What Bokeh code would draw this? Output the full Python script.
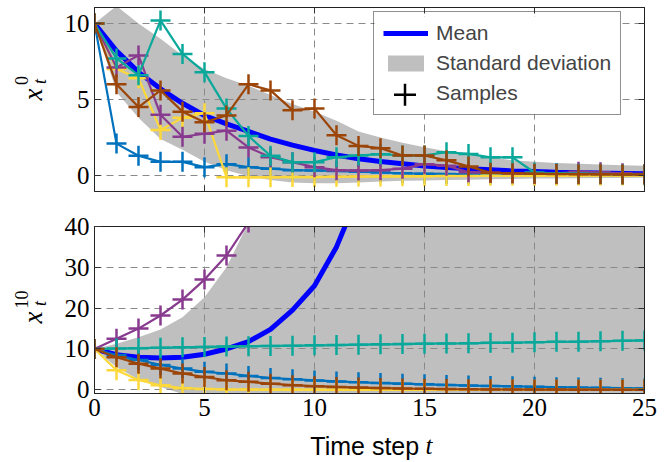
from bokeh.plotting import figure
from bokeh.models import (Legend, LegendItem, LinearAxis, Range1d, FixedTicker)
from bokeh.layouts import column, row
from bokeh.core.properties import value
from bokeh.embed import file_html
from bokeh.resources import INLINE

# ---------------- data ----------------
t = list(range(26))
x_ticks = [0, 5, 10, 15, 20, 25]
y_ticks_top = [0, 5, 10]
y_ticks_bot = [0, 10, 20, 30, 40]

# top panel: x_t^0
mean_x0 = [10.0, 8.2, 6.8, 5.7, 4.75, 3.95, 3.4, 2.9, 2.4, 2.0, 1.65, 1.35, 1.1, 0.92,
           0.78, 0.63, 0.53, 0.45, 0.38, 0.3, 0.26, 0.22, 0.19, 0.16, 0.14, 0.12]
upper_x0 = [10.0, 11.15, 10.0, 9.0, 7.9, 7.0, 6.4, 5.9, 5.3, 4.7, 4.2, 3.6, 2.9, 2.5,
            2.15, 1.86, 1.6, 1.4, 1.2, 1.0, 0.9, 0.83, 0.77, 0.72, 0.68, 0.65]
lower_x0 = [10.0, 5.5, 3.8, 2.4, 1.7, 0.9, 0.35, -0.05, -0.3, -0.45, -0.5, -0.5, -0.45, -0.4,
            -0.35, -0.32, -0.3, -0.28, -0.25, -0.22, -0.2, -0.2, -0.18, -0.17, -0.16, -0.15]
blue_x0 = [10.0, 2.1, 1.3, 0.9, 0.9, 0.55, 0.75, 0.55, 0.45, 0.35, 0.33, 0.3, 0.25, 0.2,
           0.15, 0.12, 0.1, 0.08, 0.07, 0.06, 0.05, 0.04, 0.04, 0.03, 0.03, 0.02]
yellow_x0 = [10.0, 7.0, 6.4, 3.0, 3.8, 4.1, -0.12, -0.12, -0.11, -0.1, -0.1, -0.08, -0.07, -0.06,
             -0.05, -0.04, -0.03, -0.03, -0.02, -0.02, -0.01, -0.01, 0.0, 0.0, 0.0, 0.0]
purple_x0 = [10.0, 7.1, 7.9, 4.0, 2.55, 2.75, 2.95, 1.85, 1.2, 0.88, 0.55, 0.35, 0.33, 0.35,
             0.45, 0.75, 0.65, 0.22, 0.18, 0.15, 0.12, 0.15, 0.25, 0.22, 0.15, 0.1]
teal_x0 = [10.0, 7.7, 6.6, 10.2, 8.0, 6.8, 4.4, 2.6, 1.3, 0.88, 0.88, 1.2, 1.32, 1.4,
           1.32, 1.32, 1.53, 1.42, 1.2, 1.2, 0.2, 0.15, 0.12, 0.1, 0.08, 0.07]
brown_x0 = [10.0, 6.0, 4.5, 5.6, 4.2, 3.5, 3.95, 6.0, 5.6, 4.3, 4.4, 2.65, 1.95, 1.8,
            1.32, 1.32, 1.0, 0.6, 0.18, 0.15, 0.12, 0.1, 0.09, 0.08, 0.07, 0.06]

# bottom panel: x_t^10
mean_x10 = [10.0, 8.6, 8.0, 7.8, 8.0, 8.7, 10.0, 11.8, 14.8, 19.5, 25.5, 35.0, 48.0]
upper_x10 = [10.0, 11.3, 12.9, 14.8, 17.8, 22.7, 30.0, 41.0, 58.0, 80.0, 110.0, 150.0, 200.0,
             260.0, 330.0, 420.0, 520.0, 640.0, 780.0, 950.0, 1150.0, 1400.0, 1700.0, 2000.0,
             2400.0, 2900.0]
lower_x10 = [10.0, 5.5, 2.5, 0.7, -1.0, -3.0, -6.0, -10.0, -16.0, -25.0, -36.0, -50.0, -70.0,
             -95.0, -125.0, -160.0, -200.0, -250.0, -310.0, -380.0, -460.0, -550.0, -650.0,
             -760.0, -880.0, -1000.0]
purple_x10 = [10.0, 12.5, 15.0, 18.2, 22.1, 27.0, 32.9, 41.0, 51.0]
teal_x10 = [10.0, 10.1, 10.2, 10.3, 10.4, 10.5, 10.6, 10.7, 10.75, 10.8, 10.9, 10.95, 11.05,
            11.15, 11.2, 11.3, 11.35, 11.4, 11.5, 11.55, 11.65, 11.75, 11.8, 11.9, 12.0, 12.1]
blue_x10 = [10.0, 8.5, 7.3, 6.1, 5.2, 4.4, 4.0, 3.4, 2.9, 2.6, 2.3, 2.05, 1.85, 1.65, 1.5,
            1.35, 1.2, 1.05, 0.95, 0.85, 0.75, 0.65, 0.55, 0.48, 0.4, 0.35]
brown_x10 = [10.0, 8.0, 6.4, 5.2, 4.0, 3.15, 2.35, 1.95, 1.5, 1.15, 0.9, 0.7, 0.55, 0.42,
             0.32, 0.25, 0.18, 0.14, 0.1, 0.08, 0.06, 0.05, 0.04, 0.03, 0.02, 0.02]
yellow_x10 = [10.0, 4.8, 2.4, 1.1, 0.4, 0.2, 0.1, 0.06, 0.04, 0.03, 0.02, 0.01, 0.01, 0.0,
              0.0, 0.0, 0.0, 0.0, 0.0, 0.0, 0.0, 0.0, 0.0, 0.0, 0.0, 0.0]

C_BLUE = "#0072BD"
C_YELLOW = "#FCD83A"
C_PURPLE = "#873A8E"
C_TEAL = "#0AA89A"
C_BROWN = "#9C4508"
C_MEAN = "#0000FF"
C_BAND = "#BFBFBF"

SERIF = "Liberation Serif"
SANS = "Liberation Sans"
TICK_SIZE = "25px"

LEFT_W = 50          # width of the strip holding the y-axis titles
MAIN_W = 615         # width of each panel figure
FRAME_W = 550
TOTAL_H = 461
TOP_H = 208
TOP_FRAME_H = 184
BOT_FRAME_H = 167
BOT_BORDER = 36
STRIP_TOP = TOP_H + 18 + BOT_FRAME_H + BOT_BORDER
X_RANGE = (0, 25)
Y_RANGE_TOP = (-1.05, 11.05)
Y_RANGE_BOT = (-0.9, 40)


def make_fig(height, yr, yticks, border_top, border_bottom, x_labels):
    p = figure(width=MAIN_W, height=height, x_range=Range1d(*X_RANGE), y_range=Range1d(*yr),
               output_backend="svg", toolbar_location=None, title=None,
               min_border_left=44, min_border_right=MAIN_W - 44 - FRAME_W,
               min_border_top=border_top, min_border_bottom=border_bottom)
    p.add_layout(LinearAxis(), "above")
    p.add_layout(LinearAxis(), "right")
    p.below[0].ticker = FixedTicker(ticks=x_ticks if x_labels else [], minor_ticks=x_ticks)
    p.above[0].ticker = FixedTicker(ticks=[], minor_ticks=x_ticks)
    p.left[0].ticker = FixedTicker(ticks=yticks, minor_ticks=yticks)
    p.right[0].ticker = FixedTicker(ticks=[], minor_ticks=yticks)
    p.xgrid.ticker = FixedTicker(ticks=x_ticks)
    p.ygrid.ticker = FixedTicker(ticks=yticks)
    for ax in p.axis:
        ax.major_tick_in = 6
        ax.major_tick_out = 0
        ax.minor_tick_in = 6
        ax.minor_tick_out = 0
        ax.axis_line_color = "#222222"
        ax.major_tick_line_color = "#333333"
        ax.minor_tick_line_color = "#333333"
        ax.major_label_text_font = SERIF
        ax.major_label_text_font_size = TICK_SIZE
        ax.major_label_text_color = "black"
        ax.major_label_standoff = 5
    p.below[0].major_label_standoff = 5
    p.grid.grid_line_color = "#8a8a8a"
    p.grid.grid_line_dash = "7 5"
    p.grid.grid_line_width = 1
    p.outline_line_color = "#222222"
    p.background_fill_color = "white"
    return p


def draw_sample(p, ys, color):
    xs = t[:len(ys)]
    p.line(xs, ys, line_color=color, line_width=2.2)
    p.scatter(xs, ys, marker="cross", size=20, line_color=color, line_width=2.5)


def text_strip(width, height, xr, yr):
    s = figure(width=width, height=height, x_range=Range1d(*xr), y_range=Range1d(*yr),
               output_backend="svg", toolbar_location=None, title=None,
               x_axis_location=None, y_axis_location=None,
               min_border_left=0, min_border_right=0, min_border_top=0, min_border_bottom=0)
    s.grid.visible = False
    s.outline_line_color = None
    s.background_fill_color = "white"
    return s


def put(s, x, y, txt, font, size, style="normal", angle=0.0, align="center"):
    s.text(x=[x], y=[y], text=[txt], angle=angle, text_font=value(font),
           text_font_size=value(size), text_font_style=style, text_align=align,
           text_baseline="alphabetic", text_color="black")


def to_data_x(sx):
    return X_RANGE[0] + sx / FRAME_W * (X_RANGE[1] - X_RANGE[0])


def to_data_y(sy):
    return Y_RANGE_TOP[0] + sy / TOP_FRAME_H * (Y_RANGE_TOP[1] - Y_RANGE_TOP[0])


# ---------------- top panel ----------------
p1 = make_fig(TOP_H, Y_RANGE_TOP, y_ticks_top, 7, TOP_H - 7 - TOP_FRAME_H, False)
band1 = p1.varea(x=t, y1=lower_x0, y2=upper_x0, fill_color=C_BAND, level="image")

# legend geometry (screen px from the frame's bottom-left corner)
LEG_X, LEG_Y, LEG_PAD, LEG_GW, LEG_ROW, LEG_SP, LEG_TW = 279, 76, 9, 45, 23.3, 6, 176
LEG_W = 2 * LEG_PAD + LEG_GW + 8 + LEG_TW
LEG_H = 2 * LEG_PAD + 3 * LEG_ROW + 2 * LEG_SP

# opaque white backing for the legend box (hides the grid), drawn under the data
p1.quad(left=[to_data_x(LEG_X + 1)], right=[to_data_x(LEG_X + LEG_W - 1)],
        bottom=[to_data_y(LEG_Y + 1)], top=[to_data_y(LEG_Y + LEG_H - 1)],
        fill_color="white", line_color=None)

mean1 = p1.line(t, mean_x0, line_color=C_MEAN, line_width=5)
for ys, c in [(blue_x0, C_BLUE), (yellow_x0, C_YELLOW), (purple_x0, C_PURPLE),
              (teal_x0, C_TEAL), (brown_x0, C_BROWN)]:
    draw_sample(p1, ys, c)

# full-size "Samples" key (the legend's own marker glyph is tiny, so it is hidden)
p1.scatter(x=[to_data_x(LEG_X + LEG_PAD + LEG_GW / 2)],
           y=[to_data_y(LEG_Y + LEG_PAD + LEG_ROW / 2)],
           marker="cross", size=22, line_color="black", line_width=2.5)
samples_r = p1.scatter(x=[float("nan")], y=[float("nan")], marker="cross", size=22,
                       line_color="black", line_width=2.5, line_alpha=0.0)

legend = Legend(items=[LegendItem(label="Mean", renderers=[mean1]),
                       LegendItem(label="Standard deviation", renderers=[band1]),
                       LegendItem(label="Samples", renderers=[samples_r])],
                location=(LEG_X, LEG_Y))
legend.label_text_font = SANS
legend.label_text_font_size = "21px"
legend.glyph_width = LEG_GW
legend.glyph_height = 20
legend.label_height = 20
legend.spacing = LEG_SP
legend.padding = LEG_PAD
legend.label_standoff = 8
legend.border_line_color = "#222222"
legend.border_line_width = 1
legend.background_fill_alpha = 0.0
p1.add_layout(legend)

# ---------------- bottom panel ----------------
p2 = make_fig(STRIP_TOP - TOP_H, Y_RANGE_BOT, y_ticks_bot, 18, BOT_BORDER, True)
p2.varea(x=t, y1=lower_x10, y2=upper_x10, fill_color=C_BAND, level="image")
p2.line(t[:len(mean_x10)], mean_x10, line_color=C_MEAN, line_width=5)
for ys, c in [(blue_x10, C_BLUE), (yellow_x10, C_YELLOW), (purple_x10, C_PURPLE),
              (teal_x10, C_TEAL), (brown_x10, C_BROWN)]:
    draw_sample(p2, ys, c)

# ---------------- x-axis title strip ----------------
xl = text_strip(MAIN_W, TOTAL_H - STRIP_TOP, (LEFT_W, LEFT_W + MAIN_W), (TOTAL_H, STRIP_TOP))
put(xl, 413, 445, "Time step", SANS, "25px", align="right")
put(xl, 420, 445, "t", SERIF, "25px", "italic", align="left")

# ---------------- y-axis title strip ----------------
PI2 = 1.5707963
yl = text_strip(LEFT_W, TOTAL_H, (0, LEFT_W), (0, TOTAL_H))
put(yl, 32, TOTAL_H - 94, "x", SERIF, "27px", "italic", PI2)
put(yl, 39, TOTAL_H - 81, "t", SERIF, "18px", "italic", PI2)
put(yl, 21, TOTAL_H - 80, "0", SERIF, "18px", "normal", PI2)
put(yl, 32, TOTAL_H - 317, "x", SERIF, "27px", "italic", PI2)
put(yl, 39, TOTAL_H - 303, "t", SERIF, "18px", "italic", PI2)
put(yl, 21, TOTAL_H - 299, "10", SERIF, "18px", "normal", PI2)

layout = row(yl, column(p1, p2, xl, spacing=0), spacing=0)
open("out.html", "w").write(file_html(layout, INLINE))
